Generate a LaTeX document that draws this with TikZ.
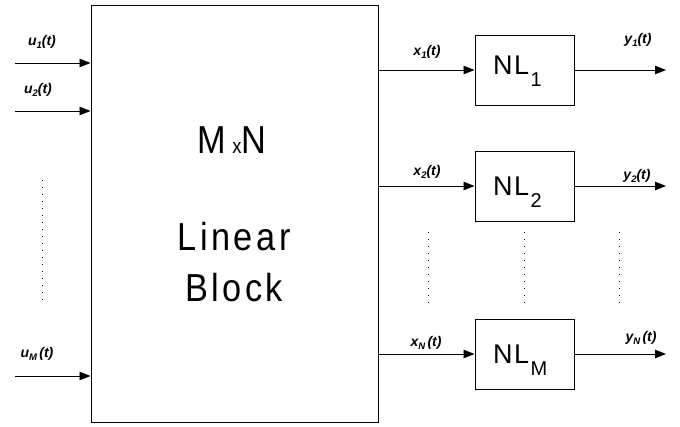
\documentclass[tikz,border=0pt]{standalone}
\usepackage{fontspec}
\setmainfont{Liberation Sans}
\newfontfamily\bigfont[FakeStretch=0.88,LetterSpace=9]{Liberation Sans}
\usetikzlibrary{arrows.meta}
\newcommand{\sgl}[2]{#1\raisebox{-3.5pt}{\fontsize{9.5}{10}\selectfont #2}}
\newcommand{\nlsub}[1]{\fontsize{27}{30}\selectfont N\kern1.5pt L\kern1.5pt\raisebox{-12.5pt}{\fontsize{20}{22}\selectfont #1}}
\begin{document}
\begin{tikzpicture}[x=1pt,y=-1pt,
  blk/.style={draw,line width=1pt,inner sep=0pt},
  nlbox/.style={blk,minimum width=99pt,minimum height=70pt},
  sig/.style={line width=0.9pt,-{Triangle[length=11pt,width=8.5pt]}},
  lbl/.style={font=\fontsize{14}{16}\selectfont\bfseries\itshape,inner sep=0pt},
  nltext/.style={anchor=base west,inner sep=0pt},
  big/.style={anchor=base,inner sep=0pt,font=\fontsize{39}{42}\bigfont},
  dots/.style={line width=1pt,dash pattern=on 1pt off 6pt}]
\useasboundingbox (0,0) rectangle (680,426);
% main block
\node[blk,minimum width=287pt,minimum height=417pt] (lin) at (234.5,213.5) {};
\node[big] (mxn) at (232,153) {M\hspace{6pt}{\fontsize{21}{22}\selectfont x}\hspace{0pt}N};
\node[big] (linear) at (234,250) {Linear};
\node[big] (block) at (234,301) {Block};
% NL boxes
\node[nlbox] (nl1) at (524.5,70) {};
\node[nlbox] (nl2) at (524.5,186) {};
\node[nlbox] (nlm) at (524.5,354) {};
\node[nltext] (t1) at (493,74) {\nlsub{1}};
\node[nltext] (t2) at (493,195) {\nlsub{2}};
\node[nltext] (tm) at (493,363) {\nlsub{M}};
% inputs
\coordinate (u1) at (15,63);
\coordinate (u2) at (15,111);
\coordinate (um) at (15,376);
\draw[sig] (u1) -- (u1 -| lin.west);
\draw[sig] (u2) -- (u2 -| lin.west);
\draw[sig] (um) -- (um -| lin.west);
\node[lbl] (lu1) at (42,42) {\sgl{u}{1}(t)};
\node[lbl] (lu2) at (38,90) {\sgl{u}{2}(t)};
\node[lbl] (lum) at (37,354) {\sgl{u}{M}\,(t)};
% outputs of linear block
\draw[sig] (lin.east |- nl1.west) -- (nl1.west);
\draw[sig] (lin.east |- nl2.west) -- (nl2.west);
\draw[sig] (lin.east |- nlm.west) -- (nlm.west);
\node[lbl] (lx1) at (427,52) {\sgl{x}{1}(t)};
\node[lbl] (lx2) at (427,172) {\sgl{x}{2}(t)};
\node[lbl] (lxn) at (426,343) {\sgl{x}{N}\,(t)};
% outputs
\coordinate (yend) at (666,0);
\draw[sig] (nl1.east) -- (nl1.east -| yend);
\draw[sig] (nl2.east) -- (nl2.east -| yend);
\draw[sig] (nlm.east) -- (nlm.east -| yend);
\node[lbl] (ly1) at (638,40) {\sgl{y}{1}(t)};
\node[lbl] (ly2) at (637,176) {\sgl{y}{2}(t)};
\node[lbl] (lyn) at (641,338) {\sgl{y}{N}\,(t)};
% dotted lines
\coordinate (d0a) at (42,180); \coordinate (d0b) at (42,300);
\coordinate (d1a) at (428,232); \coordinate (d1b) at (428,303);
\coordinate (d2a) at (524,232); \coordinate (d2b) at (524,303);
\coordinate (d3a) at (619,232); \coordinate (d3b) at (619,303);
\draw[dots] (d0a) -- (d0b);
\draw[dots] (d1a) -- (d1b);
\draw[dots] (d2a) -- (d2b);
\draw[dots] (d3a) -- (d3b);
\end{tikzpicture}
\end{document}
